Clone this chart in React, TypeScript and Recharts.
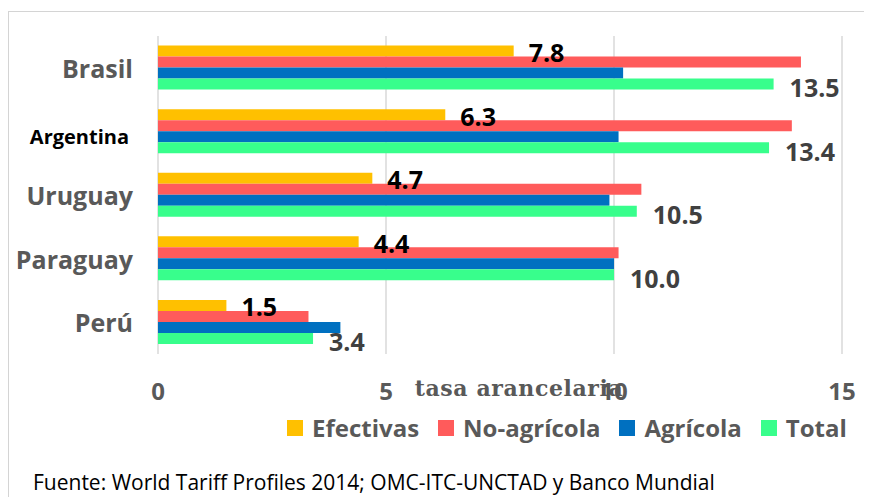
import React from "react";
import { BarChart, Bar, XAxis, YAxis, CartesianGrid, Legend, LabelList } from "recharts";

const countries = ["Brasil", "Argentina", "Uruguay", "Paraguay", "Perú"];
const efectivas = [7.8, 6.3, 4.7, 4.4, 1.5];
const noAgricola = [14.1, 13.9, 10.6, 10.1, 3.3];
const agricola = [10.2, 10.1, 9.9, 10.0, 4.0];
const total = [13.5, 13.4, 10.5, 10.0, 3.4];
const seriesNames = ["Efectivas", "No-agrícola", "Agrícola", "Total"];
const xTicks = [0, 5, 10, 15];
const axisTitle = "tasa arancelaria";
const sourceNote = "Fuente: World Tariff Profiles 2014; OMC-ITC-UNCTAD y Banco Mundial";

const chartData = countries.map((pais, i) => ({
  pais,
  efectivas: efectivas[i],
  noAgricola: noAgricola[i],
  agricola: agricola[i],
  total: total[i],
}));

const sans = "'Open Sans', Lato, sans-serif";
const gray = "#595959";

const CountryTick = (props: any) => {
  const { x, y, payload } = props;
  const special = payload.value === "Argentina";
  return (
    <text
      x={x + (special ? -4 : 0)}
      y={y + (special ? 5 : 0)}
      textAnchor="end"
      dominantBaseline="central"
      fontFamily={sans}
      fontWeight="bold"
      fontSize={special ? 20 : 25}
      fill={special ? "#000" : gray}
    >
      {payload.value}
    </text>
  );
};

const renderLegend = (props: any) => {
  const items = [...props.payload].sort(
    (a: any, b: any) => seriesNames.indexOf(a.value) - seriesNames.indexOf(b.value)
  );
  return (
    <div style={{ display: "flex", alignItems: "center", height: 34 }}>
      {items.map((entry: any) => (
        <div key={entry.value} style={{ display: "flex", alignItems: "center", marginRight: 19 }}>
          <span style={{ width: 16, height: 16, background: entry.color, marginRight: 9, display: "inline-block" }} />
          <span style={{ fontFamily: sans, fontWeight: "bold", fontSize: 24, color: gray, lineHeight: "34px" }}>
            {entry.value}
          </span>
        </div>
      ))}
    </div>
  );
};

const renderAxisTitle = (props: any) => {
  const vb = props.viewBox;
  return (
    <text
      x={vb.x + vb.width / 2 + 19}
      y={vb.y + 42}
      textAnchor="middle"
      fontFamily="'DejaVu Serif', serif"
      fontWeight="bold"
      fontSize={22}
      letterSpacing={0.6}
      fill={gray}
    >
      {axisTitle}
    </text>
  );
};

const fmt = (v: any) => Number(v).toFixed(1);

export default function App() {
  return (
    <div style={{ position: "relative", width: 864, height: 489, fontFamily: sans }}>
      <div
        style={{
          position: "absolute",
          left: 0,
          top: 3,
          width: 864,
          height: 486,
          borderTop: "1px solid #d4d4d4",
          borderLeft: "1px solid #d4d4d4",
        }}
      />
      <div style={{ position: "absolute", left: 0, top: 0 }}>
        <BarChart
          width={864}
          height={437}
          data={chartData}
          layout="vertical"
          margin={{ top: 28, right: 30, left: 0, bottom: 0 }}
          barCategoryGap="15%"
          barGap={0}
        >
          <CartesianGrid horizontal={false} stroke="#d9d9d9" strokeWidth={1.5} />
          <XAxis
            type="number"
            domain={[0, 15]}
            ticks={xTicks}
            axisLine={false}
            tickLine={false}
            tickSize={0}
            tickMargin={29}
            height={57}
            tick={{ fontFamily: sans, fontWeight: "bold", fontSize: 24, fill: gray }}
            label={{ content: renderAxisTitle }}
          />
          <YAxis
            type="category"
            dataKey="pais"
            width={150}
            axisLine={false}
            tickLine={false}
            tickSize={0}
            tickMargin={25}
            tick={<CountryTick />}
          />
          <Legend
            verticalAlign="bottom"
            align="left"
            content={renderLegend}
            wrapperStyle={{ left: 279, width: "auto" }}
          />
          <Bar dataKey="efectivas" name={seriesNames[0]} fill="#FFC000" isAnimationActive={false}>
            <LabelList
              dataKey="efectivas"
              position="right"
              offset={15}
              formatter={fmt}
              fill="#000"
              fontFamily={sans}
              fontWeight="bold"
              fontSize={25}
              dy={2}
            />
          </Bar>
          <Bar dataKey="noAgricola" name={seriesNames[1]} fill="#FF5B5B" isAnimationActive={false} />
          <Bar dataKey="agricola" name={seriesNames[2]} fill="#0070C0" isAnimationActive={false} />
          <Bar dataKey="total" name={seriesNames[3]} fill="#38FE8C" isAnimationActive={false}>
            <LabelList
              dataKey="total"
              position="right"
              offset={16}
              formatter={fmt}
              fill="#404040"
              fontFamily={sans}
              fontWeight="bold"
              fontSize={25}
              dy={4}
            />
          </Bar>
        </BarChart>
      </div>
      <div
        style={{
          position: "absolute",
          left: 25,
          top: 462,
          fontFamily: sans,
          fontSize: 21,
          lineHeight: "24px",
          color: "#000",
          whiteSpace: "nowrap",
        }}
      >
        {sourceNote}
      </div>
    </div>
  );
}
